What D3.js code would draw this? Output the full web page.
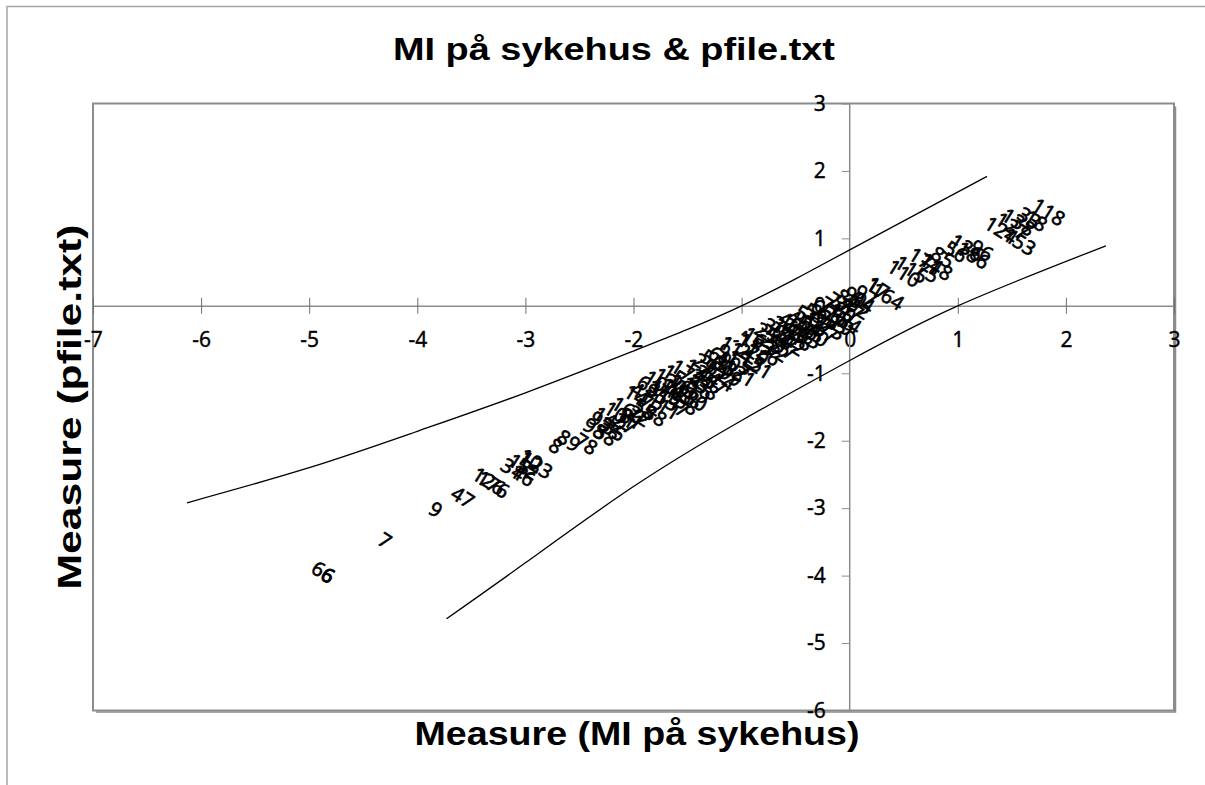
<!DOCTYPE html>
<html>
<head>
<meta charset="utf-8">
<script src="https://cdn.jsdelivr.net/npm/d3@7"></script>
<style>
  html, body { margin: 0; padding: 0; background: #fff; }
  svg { display: block; }
</style>
</head>
<body>
<svg id="chart" width="1205" height="785"></svg>
<script>
// Person labels with their measures in the two analyses
const personIds = [
  "66", "6", "7", "9", "47", "126", "176", "31", "46", "13", "52", "10", "123",
  "8", "89", "78", "98", "93", "58", "142", "35", "101", "27", "160", "81",
  "14", "22", "41", "55", "63", "72", "88", "95", "104", "111", "119", "130", "137",
  "145", "151", "158", "165", "172", "180", "3", "12", "19", "24", "29", "38", "44",
  "50", "57", "61", "69", "74", "83", "91", "99", "107", "114", "121",
  "2", "5", "11", "15", "16", "20", "21", "23", "25", "26", "28", "30", "32", "34",
  "36", "37", "39", "40", "42", "43", "45", "48", "49", "51", "53", "54", "59", "60",
  "62", "65", "67", "68", "71", "73", "76", "77", "79", "80", "82", "84", "87", "90",
  "92", "94", "97",
  "17", "164", "1", "110", "115", "75", "171", "148", "85", "56", "136", "186", "96",
  "124", "127", "138", "153", "33", "18", "118"
];
const measureMI = [
  -4.87, -4.83, -4.30, -3.83, -3.58, -3.34, -3.30, -3.12, -3.02, -3.05, -2.98, -2.95, -2.90,
  -2.72, -2.60, -2.44, -2.36, -2.30, -2.26, -2.22, -2.18, -2.12, -2.08, -2.05, -2.02,
  -1.98, -1.95, -1.92, -1.90, -1.86, -1.84, -1.80, -1.78, -1.75, -1.72, -1.70, -1.66, -1.64,
  -1.60, -1.58, -1.55, -1.52, -1.50, -1.47, -1.44, -1.42, -1.40, -1.37, -1.34, -1.32, -1.30,
  -1.27, -1.25, -1.22, -1.20, -1.17, -1.15, -1.12, -1.10, -1.07, -1.05, -1.02,
  -0.98, -0.96, -0.93, -0.90, -0.88, -0.85, -0.82, -0.80, -0.77, -0.75, -0.72, -0.70, -0.67, -0.65,
  -0.62, -0.60, -0.57, -0.55, -0.52, -0.50, -0.47, -0.45, -0.42, -0.40, -0.37, -0.35, -0.32, -0.30,
  -0.27, -0.25, -0.22, -0.20, -0.17, -0.15, -0.12, -0.10, -0.07, -0.05, -0.02, 0.00, 0.02, 0.05,
  0.08, 0.12, 0.15,
  0.26, 0.35, 0.22, 0.50, 0.57, 0.72, 0.70, 0.80, 0.86, 0.98, 1.08, 1.14, 1.22,
  1.40, 1.50, 1.56, 1.57, 1.66, 1.72, 1.84
];
const measurePfile = [
  -3.95, -4.00, -3.48, -3.02, -2.84, -2.60, -2.65, -2.42, -2.52, -2.35, -2.42, -2.28, -2.36,
  -2.08, -2.00, -2.05, -1.82, -1.72, -1.92, -1.70, -1.85, -1.62, -1.75, -1.55, -1.68,
  -1.33, -1.63, -1.29, -1.53, -1.19, -1.47, -1.63, -1.31, -1.16, -1.49, -1.29, -1.12, -1.45,
  -1.27, -1.07, -1.42, -1.21, -1.00, -1.36, -1.14, -0.94, -1.30, -1.09, -0.86, -1.24, -1.04,
  -0.81, -1.17, -0.96, -0.76, -1.11, -0.895, -0.72, -1.04, -0.87, -0.65, -1.00,
  -0.67, -0.915, -0.56, -0.83, -0.47, -0.72, -0.93, -0.585, -0.405, -0.735, -0.555, -0.34, -0.675, -0.49,
  -0.31, -0.64, -0.445, -0.245, -0.58, -0.395, -0.215, -0.51, -0.35, -0.15, -0.48, -0.30, -0.12, -0.45,
  -0.25, -0.055, -0.39, -0.20, -0.025, -0.35, -0.145, 0.04, -0.29, -0.095, 0.09, -0.26, -0.06, 0.13,
  -0.04, 0.05, 0.15,
  0.26, 0.14, 0.32, 0.48, 0.54, 0.50, 0.66, 0.58, 0.72, 0.80, 0.86, 0.75, 0.82,
  1.12, 1.18, 1.24, 0.95, 1.30, 1.26, 1.39
];

// Confidence band curves
const upperBandX = [-6.13, -5.0, -4.0, -3.0, -2.0, -1.5, -1.0, -0.5, 0.0, 1.27];
const upperBandY = [-2.92, -2.40, -1.86, -1.29, -0.67, -0.35, 0.00, 0.40, 0.83, 1.92];
const lowerBandX = [-3.73, -3.0, -2.0, -1.0, 0.0, 1.0, 2.37];
const lowerBandY = [-4.64, -3.81, -2.68, -1.70, -0.81, 0.00, 0.89];

// Axis ticks
const xTicks = [-7, -6, -5, -4, -3, -2, -1, 0, 1, 2, 3];
const yTicks = [3, 2, 1, 0, -1, -2, -3, -4, -5, -6];

const titleText = "MI på sykehus & pfile.txt";
const xTitleText = "Measure (MI på sykehus)";
const yTitleText = "Measure (pfile.txt)";

const svg = d3.select("#chart");
const plot = { left: 93, top: 103.5, right: 1174, bottom: 710.5 };

const x = d3.scaleLinear().domain([-7, 3]).range([plot.left, plot.right]);
const y = d3.scaleLinear().domain([-6, 3]).range([plot.bottom, plot.top]);

// Outer chart frame
svg.append("rect")
  .attr("x", 7).attr("y", 6.5)
  .attr("width", 1220).attr("height", 800)
  .attr("fill", "#fff")
  .attr("stroke", "#a6a6a6").attr("stroke-width", 1.5);

// Plot area with shadowed right/bottom edges
svg.append("rect")
  .attr("x", plot.left).attr("y", plot.top)
  .attr("width", plot.right - plot.left).attr("height", plot.bottom - plot.top)
  .attr("fill", "#fff")
  .attr("stroke", "#8c8c8c").attr("stroke-width", 2);
svg.append("path")
  .attr("d", `M${plot.right + 1.5},${plot.top + 3}V${plot.bottom + 1.5}H${plot.left + 3}`)
  .attr("fill", "none").attr("stroke", "#8c8c8c").attr("stroke-width", 1.5);

const labelFont = "'Noto Sans', 'Open Sans', sans-serif";

// Slightly heavier glyphs for axis and point labels
function heavy(sel, w) {
  sel.attr("stroke", "#000").attr("stroke-width", w).attr("stroke-linejoin", "round");
}

// X axis through y = 0, ticks crossing the line
const xAxis = d3.axisBottom(x).tickValues(xTicks).tickSize(0).tickFormat(d3.format("d"));
const gx = svg.append("g").attr("transform", `translate(0,${y(0)})`).call(xAxis);
gx.select(".domain").attr("stroke", "#8c8c8c").attr("stroke-width", 1.5);
gx.selectAll(".tick line").remove();
gx.selectAll(".tick").append("line")
  .attr("y1", -8).attr("y2", 8)
  .attr("stroke", "#6e6e6e").attr("stroke-width", 1);
gx.selectAll(".tick text")
  .attr("y", 34).attr("dy", "0.32em")
  .attr("fill", "#000")
  .style("font-family", labelFont).style("font-size", "21px")
  .text(d => d3.format("d")(d).replace("−", "-"))
  .call(heavy, 0.35);

// Y axis through x = 0, ticks on the outside
const yAxis = d3.axisLeft(y).tickValues(yTicks).tickSize(8).tickPadding(16);
const gy = svg.append("g").attr("transform", `translate(${x(0)},0)`).call(yAxis);
gy.select(".domain").attr("stroke", "#8c8c8c").attr("stroke-width", 1.5).attr("d", `M0,${plot.top}V${plot.bottom}`);
gy.selectAll(".tick line").attr("stroke", "#8c8c8c");
gy.selectAll(".tick text")
  .attr("fill", "#000")
  .style("font-family", labelFont).style("font-size", "21px")
  .text(d => d3.format("d")(d).replace("−", "-"))
  .call(heavy, 0.35);

// Confidence bands
const bandLine = d3.line().x(d => x(d[0])).y(d => y(d[1])).curve(d3.curveNatural);
svg.append("path")
  .datum(upperBandX.map((v, i) => [v, upperBandY[i]]))
  .attr("d", bandLine)
  .attr("fill", "none").attr("stroke", "#000").attr("stroke-width", 1.3);
svg.append("path")
  .datum(lowerBandX.map((v, i) => [v, lowerBandY[i]]))
  .attr("d", bandLine)
  .attr("fill", "none").attr("stroke", "#000").attr("stroke-width", 1.3);

// Person labels, drawn at each point
const persons = personIds.map((id, i) => ({ id, mx: measureMI[i], my: measurePfile[i] }));
svg.append("g")
  .selectAll("text")
  .data(persons)
  .join("text")
  .attr("transform", d => `translate(${x(d.mx)},${y(d.my)}) rotate(32)`)
  .attr("text-anchor", "middle")
  .attr("dy", "0.35em")
  .style("font-family", labelFont).style("font-size", "20px")
  .attr("fill", "#000")
  .text(d => d.id)
  .call(heavy, 0.6);

// Titles
svg.append("text")
  .attr("x", 614).attr("y", 60)
  .attr("text-anchor", "middle")
  .attr("textLength", 442).attr("lengthAdjust", "spacingAndGlyphs")
  .style("font-family", "'Liberation Sans', Arial, sans-serif")
  .style("font-weight", "bold").style("font-size", "31px")
  .text(titleText);

svg.append("text")
  .attr("x", 637).attr("y", 745)
  .attr("text-anchor", "middle")
  .attr("textLength", 445).attr("lengthAdjust", "spacingAndGlyphs")
  .style("font-family", "'Liberation Sans', Arial, sans-serif")
  .style("font-weight", "bold").style("font-size", "34px")
  .text(xTitleText);

svg.append("text")
  .attr("transform", "translate(81,407) rotate(-90)")
  .attr("text-anchor", "middle")
  .attr("textLength", 365).attr("lengthAdjust", "spacingAndGlyphs")
  .style("font-family", "'Liberation Sans', Arial, sans-serif")
  .style("font-weight", "bold").style("font-size", "34px")
  .text(yTitleText);
</script>
</body>
</html>
